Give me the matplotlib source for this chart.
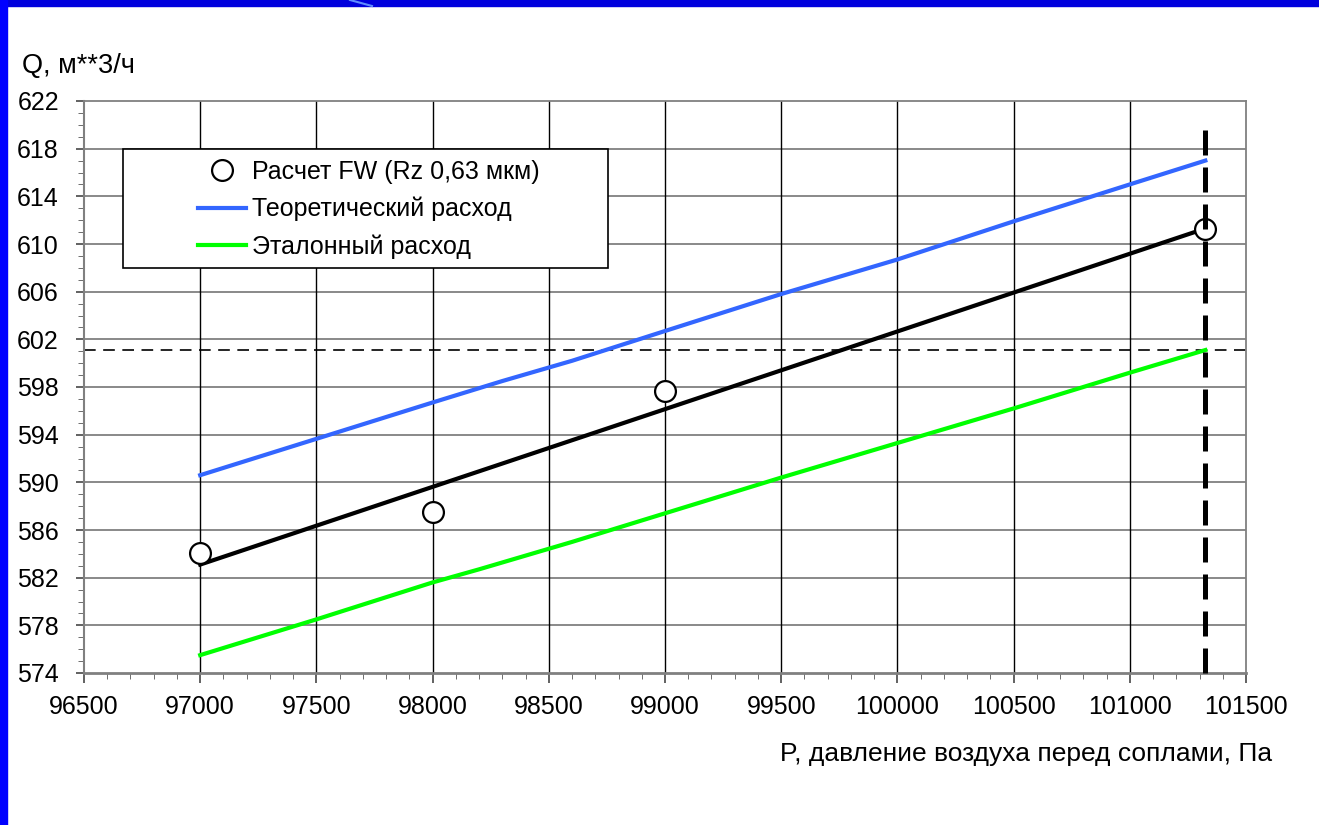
import numpy as np
import matplotlib.pyplot as plt
from matplotlib.patches import Rectangle
from matplotlib.ticker import FixedLocator, MultipleLocator

plt.rcParams['font.family'] = ['Liberation Sans', 'DejaVu Sans']

# Расчет FW (Rz 0,63 мкм)
p_fw = [97000, 98000, 99000, 101325]
q_fw = [584.1, 587.5, 597.7, 611.3]

# линия тренда по расчетным точкам
p_trend = [97000, 101325]
q_trend = [583.1, 611.3]

# Теоретический расход
p_theor = [97000, 98000, 98200, 98300, 98600, 99000, 99500, 100000, 100500, 101000, 101325]
q_theor = [590.6, 596.7, 597.9, 598.5, 600.2, 602.7, 605.8, 608.7, 611.9, 615.0, 617.0]

# Эталонный расход
p_etal = [97000, 97500, 98000, 98200, 98600, 99000, 99500, 100000, 100500, 101000, 101325]
q_etal = [575.5, 578.5, 581.6, 582.7, 585.0, 587.4, 590.4, 593.3, 596.2, 599.2, 601.1]

p_nom = 101325
q_nom = 601.1

y_ticks = np.arange(574, 623, 4)

fig = plt.figure(figsize=(13.19, 8.25), dpi=100)

# синяя рамка слайда
fig.patches.append(Rectangle((0, 1 - 6 / 825), 1, 6 / 825, transform=fig.transFigure,
                             color='#0000dd', zorder=0))
fig.patches.append(Rectangle((0, 0), 7 / 1319, 1, transform=fig.transFigure,
                             color='#0000ff', zorder=0))
fig.lines.append(plt.Line2D([350 / 1319, 372 / 1319], [1, 1 - 6 / 825], transform=fig.transFigure,
                            color='#5f8cff', lw=1.5, zorder=1))

ax = fig.add_axes([84 / 1319, 1 - 673 / 825, 1162 / 1319, 572 / 825])

ax.set_xlim(96500, 101500)
ax.set_ylim(574, 622)
ax.xaxis.set_major_locator(MultipleLocator(500))
ax.xaxis.set_minor_locator(MultipleLocator(100))
ax.yaxis.set_major_locator(FixedLocator(y_ticks))
ax.yaxis.set_minor_locator(MultipleLocator(1))

# сетка
for y in y_ticks[1:-1]:
    ax.axhline(y, color='#808080', lw=1.3, zorder=1)
for x in np.arange(97000, 101500, 500):
    ax.axvline(x, color='black', lw=1.0, zorder=1)

for s in ax.spines.values():
    s.set_color('#808080')
    s.set_linewidth(1.3)
ax.spines['bottom'].set_linewidth(2)
ax.spines['left'].set_linewidth(1.5)

ax.tick_params(axis='both', which='major', labelsize=18, color='#555555', width=1.3)
ax.tick_params(axis='x', which='major', length=7, pad=9)
ax.tick_params(axis='x', which='minor', length=4, color='#555555')
ax.tick_params(axis='y', which='major', length=6, pad=12)
ax.tick_params(axis='y', which='minor', length=4, color='#555555')

ax.plot(p_theor, q_theor, color='#3366ff', lw=3, zorder=3, label='Теоретический расход')
ax.plot(p_etal, q_etal, color='#00ff00', lw=3, zorder=3, label='Эталонный расход')
ax.plot(p_trend, q_trend, color='black', lw=3, zorder=3)
ax.plot(p_fw, q_fw, 'o', ms=15, mfc='white', mec='black', mew=1.6, zorder=4,
        label='Расчет FW (Rz 0,63 мкм)')

ax.axhline(q_nom, color='black', lw=1.2, linestyle=(0, (7, 4.5)), zorder=2)
ax.plot([p_nom, p_nom], [619.6, 573.2], color='black', lw=3.6,
        linestyle=(0, (5, 2.4)), clip_on=False, zorder=5)

# легенда
ax.add_patch(Rectangle((0.0336, 0.708), 0.4174, 0.208, transform=ax.transAxes,
                       facecolor='white', edgecolor='black', lw=1.2, zorder=6))
h, l = ax.get_legend_handles_labels()
order = [2, 0, 1]
leg = ax.legend([h[i] for i in order], [l[i] for i in order], loc='upper left',
                bbox_to_anchor=(0.098, 0.897), frameon=False, fontsize=18,
                handlelength=1.92, handletextpad=0.25, labelspacing=0.52,
                borderpad=0, borderaxespad=0)
leg.set_zorder(7)

fig.text(22 / 1319, 1 - 66 / 825, 'Q, м**3/ч', fontsize=19.5, va='center', ha='left')
fig.text(1272 / 1319, 1 - 754 / 825, 'P, давление воздуха перед соплами, Па',
         fontsize=19, va='center', ha='right')

fig.savefig('out.png', dpi=100)
